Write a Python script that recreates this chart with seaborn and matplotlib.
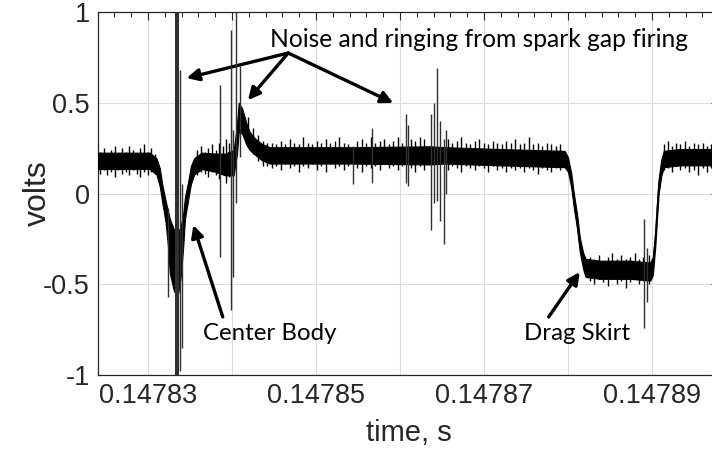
import numpy as np
import pandas as pd
import matplotlib
matplotlib.use("Agg")
import matplotlib.pyplot as plt
import seaborn as sns
from matplotlib.ticker import FixedLocator, MultipleLocator

# ---------------- data ----------------
# centre of the noisy trace (time in s, volts) and the half-width of its noise band
trace_time = [0.1478240, 0.1478302, 0.1478310, 0.1478314, 0.1478317, 0.1478321,
              0.1478324, 0.1478326, 0.1478331, 0.1478336, 0.1478339, 0.1478342,
              0.1478344, 0.1478348, 0.1478351, 0.1478355, 0.1478364, 0.1478380,
              0.1478392, 0.1478402, 0.1478406, 0.1478408, 0.1478412, 0.1478417,
              0.1478421, 0.1478427, 0.1478435, 0.1478445, 0.1478541, 0.1478636,
              0.1478654, 0.1478719, 0.1478796, 0.1478800, 0.1478804, 0.1478807,
              0.1478811, 0.1478814, 0.1478818, 0.1478821, 0.1478838, 0.1478874,
              0.1478898, 0.1478901, 0.1478904, 0.1478906, 0.1478908, 0.1478911,
              0.1478914, 0.1478933, 0.1478971, 0.1478980]
trace_volts = [0.18, 0.18, 0.15, 0.09, 0.00, -0.10,
               -0.20, -0.29, -0.37, -0.38, -0.32, -0.20,
               -0.08, 0.02, 0.10, 0.15, 0.18, 0.17,
               0.16, 0.17, 0.30, 0.42, 0.40, 0.33,
               0.29, 0.26, 0.23, 0.21, 0.21, 0.21,
               0.21, 0.20, 0.19, 0.16, 0.07, -0.04,
               -0.16, -0.28, -0.37, -0.41, -0.42, -0.42,
               -0.43, -0.40, -0.25, -0.10, 0.04, 0.14,
               0.19, 0.20, 0.20, 0.20]
noise_halfwidth = [0.045, 0.045, 0.045, 0.05, 0.05, 0.06,
                   0.10, 0.15, 0.17, 0.17, 0.14, 0.09,
                   0.06, 0.05, 0.05, 0.045, 0.045, 0.05,
                   0.06, 0.07, 0.08, 0.08, 0.07, 0.06,
                   0.05, 0.045, 0.045, 0.045, 0.045, 0.05,
                   0.045, 0.045, 0.045, 0.04, 0.04, 0.04,
                   0.04, 0.04, 0.045, 0.05, 0.05, 0.05,
                   0.05, 0.05, 0.04, 0.04, 0.04, 0.045,
                   0.045, 0.045, 0.045, 0.045]

# spark-gap spikes: time, lowest and highest excursion
spike_time = [0.1478324, 0.14783328, 0.14783351, 0.1478338, 0.1478341, 0.1478386,
              0.1478399, 0.1478401, 0.1478405, 0.1478409, 0.1478544, 0.1478567,
              0.1478607, 0.1478609, 0.1478637, 0.1478640, 0.1478644, 0.1478648,
              0.1478653, 0.1478655, 0.1478891, 0.1478894]
spike_low = [-0.57, -1.1, -1.1, -0.98, -0.85, -0.35,
             -0.64, -0.46, -0.05, 0.20, 0.05, 0.06,
             0.06, 0.04, -0.20, -0.05, -0.04, -0.15,
             -0.28, 0.00, -0.74, -0.60]
spike_high = [-0.08, 1.1, 1.1, 0.68, 0.05, 0.60,
              0.90, 0.35, 1.00, 0.70, 0.26, 0.36,
              0.44, 0.38, 0.44, 0.50, 0.69, 0.40,
              0.30, 0.35, -0.14, -0.30]
spike_width = [1.0, 2.2, 2.2, 1.0, 1.0, 1.0,
               1.0, 1.0, 1.0, 1.0, 1.0, 1.0,
               1.0, 1.0, 1.0, 1.0, 1.0, 1.0,
               1.0, 1.0, 1.0, 1.0]

# small noise excursions along the flat parts of the trace
# (time in microseconds after 0.14782 s, lowest and highest volts)
fuzz_time_us = [4.29, 4.76, 5.12, 5.60, 6.07, 6.43, 6.91, 7.38, 7.74, 8.22, 8.69, 9.05,
                9.53, 10.00, 10.36, 10.84,
                15.84, 16.31, 16.79, 17.15, 17.62, 18.10, 18.45, 18.93, 19.29, 19.65,
                21.91, 22.50, 23.10, 23.69, 24.17,
                24.76, 25.24, 25.84, 26.31, 26.91, 27.38, 27.98, 28.46, 29.05, 29.53,
                30.12, 30.60, 31.19, 31.67, 32.26, 32.74, 33.34, 33.81, 34.88, 35.48,
                35.96, 36.55, 37.03, 37.62, 38.10, 38.69, 39.17, 39.76, 40.24, 41.31,
                41.79, 42.38, 42.86, 45.72, 46.19, 46.79, 47.26, 47.86, 48.34, 48.93,
                49.41, 50.00, 50.48, 51.07, 51.55, 52.15, 52.62, 53.22, 53.69, 54.29,
                54.76, 55.36, 55.84, 56.43, 56.91, 57.50, 57.98, 58.57, 59.05,
                62.62, 63.10, 63.69, 64.17, 64.77, 65.24, 65.84, 66.31, 66.91, 67.38,
                67.98, 68.46, 68.93, 69.65,
                71.43, 71.91, 72.38, 72.86, 73.34, 73.93, 74.41, 75.00, 75.48, 76.07,
                76.55, 77.03]
fuzz_low = [0.11, 0.13, 0.10, 0.12, 0.09, 0.13, 0.11, 0.12, 0.10, 0.13, 0.11, 0.09,
            0.12, 0.10, 0.12, 0.11,
            0.10, 0.12, 0.11, 0.09, 0.12, 0.10, 0.08, 0.11, 0.06, 0.09,
            0.28, 0.22, 0.18, 0.15, 0.15,
            0.14, 0.15, 0.13, 0.16, 0.14, 0.15, 0.12, 0.15, 0.14, 0.16,
            0.13, 0.15, 0.12, 0.16, 0.14, 0.15, 0.13, 0.15, 0.14, 0.12,
            0.15, 0.14, 0.15, 0.13, 0.16, 0.14, 0.15, 0.13, 0.15, 0.14,
            0.12, 0.15, 0.13, 0.13, 0.15, 0.14, 0.12, 0.15, 0.14, 0.13,
            0.15, 0.14, 0.12, 0.15, 0.13, 0.14, 0.12, 0.14, 0.13, 0.14,
            0.12, 0.14, 0.13, 0.11, 0.14, 0.13, 0.12, 0.14, 0.13,
            -0.48, -0.50, -0.47, -0.49, -0.51, -0.47, -0.50, -0.48, -0.52, -0.49,
            -0.47, -0.50, -0.48, -0.50,
            0.13, 0.14, 0.12, 0.15, 0.13, 0.14, 0.12, 0.13, 0.10, 0.14,
            0.12, 0.14]
fuzz_high = [0.23, 0.25, 0.21, 0.24, 0.26, 0.22, 0.25, 0.23, 0.26, 0.24, 0.22, 0.25,
             0.27, 0.23, 0.25, 0.22,
             0.24, 0.26, 0.23, 0.25, 0.27, 0.24, 0.28, 0.26, 0.30, 0.28,
             0.42, 0.36, 0.32, 0.29, 0.28,
             0.28, 0.27, 0.29, 0.27, 0.30, 0.28, 0.27, 0.31, 0.28, 0.27,
             0.29, 0.28, 0.30, 0.28, 0.29, 0.31, 0.28, 0.27, 0.29, 0.30,
             0.28, 0.31, 0.28, 0.29, 0.30, 0.27, 0.29, 0.31, 0.28, 0.30,
             0.29, 0.31, 0.30, 0.30, 0.28, 0.29, 0.31, 0.28, 0.27, 0.29,
             0.30, 0.28, 0.27, 0.29, 0.28, 0.27, 0.29, 0.28, 0.30, 0.27,
             0.28, 0.31, 0.27, 0.28, 0.26, 0.28, 0.27, 0.26, 0.27,
             -0.35, -0.36, -0.34, -0.37, -0.35, -0.33, -0.36, -0.34, -0.36, -0.35,
             -0.33, -0.36, -0.35, -0.34,
             0.27, 0.29, 0.26, 0.28, 0.27, 0.29, 0.26, 0.28, 0.27, 0.28,
             0.26, 0.27]

x_major_ticks = [0.14783, 0.14784, 0.14785, 0.14786, 0.14787, 0.14788, 0.14789]
x_tick_labels = ["0.14783", "", "0.14785", "", "0.14787", "", "0.14789"]
y_ticks = [-1, -0.5, 0, 0.5, 1]
y_tick_labels = ["-1", "-0.5", "0", "0.5", "1"]

# ---------------- figure ----------------
sns.set_theme(style="white")
plt.rcParams["font.family"] = ["Liberation Sans", "DejaVu Sans"]

fig = plt.figure(figsize=(7.12, 4.54), dpi=100)
ax = fig.add_axes([98 / 712, 1 - 375 / 454, 621 / 712, 363 / 454])

trace = pd.DataFrame({"time": trace_time, "volts": trace_volts, "hw": noise_halfwidth})
lower = trace["volts"] - trace["hw"]
upper = trace["volts"] + trace["hw"]
ax.fill_between(trace["time"], lower, upper, color="black", lw=0.8, zorder=3)
sns.lineplot(data=trace, x="time", y="volts", color="black", lw=1.0, ax=ax, zorder=3)

fuzz = pd.DataFrame({"time": 0.14782 + np.array(fuzz_time_us) * 1e-6,
                     "low": fuzz_low, "high": fuzz_high})
ax.vlines(fuzz["time"], fuzz["low"], fuzz["high"], color="black", lw=1.0, zorder=3)
ax.vlines(spike_time, spike_low, spike_high, colors="#303030",
          linewidths=spike_width, zorder=4)

ax.set_xlim(0.14782405, 0.14789798)
ax.set_ylim(-1, 1)

ax.xaxis.set_major_locator(FixedLocator(x_major_ticks))
ax.set_xticklabels(x_tick_labels)
ax.xaxis.set_minor_locator(MultipleLocator(0.2e-5))
ax.set_yticks(y_ticks)
ax.set_yticklabels(y_tick_labels)
ax.yaxis.set_minor_locator(MultipleLocator(0.1))

ax.grid(True, which="major", color="#dcdcdc", lw=0.8)
ax.set_axisbelow(True)
for s in ax.spines.values():
    s.set_color("#262626")
    s.set_linewidth(0.9)
    s.set_visible(True)

ax.tick_params(which="both", direction="in", top=True, right=True,
               colors="#262626", labelsize=19.5)
ax.tick_params(which="major", length=6, width=0.8, pad=6)
ax.tick_params(which="minor", length=3.5, width=0.7)

ax.set_xlabel("time, s", fontsize=21, color="#262626", labelpad=7)
ax.set_ylabel("volts", fontsize=23, color="#262626")
ax.yaxis.set_label_coords(-0.073, 0.5)

# ---------------- annotations ----------------
ann_font = ["Lato", "DejaVu Sans"]
arrow = dict(arrowstyle="-|>", color="black", lw=2.4, mutation_scale=18, shrinkA=0, shrinkB=0)
ax.text(0.1478694, 0.846, "Noise and ringing from spark gap firing", ha="center", va="center",
        fontsize=17.7, family=ann_font, color="black")
tail = (0.1478467, 0.774)
for tip in [(0.1478346, 0.636), (0.1478419, 0.515), (0.1478592, 0.499)]:
    ax.annotate("", xy=tip, xytext=tail, arrowprops=arrow)

ax.text(0.1478445, -0.769, "Center Body", ha="center", va="center",
        fontsize=17.3, family=ann_font, color="black")
ax.annotate("", xy=(0.1478354, -0.174), xytext=(0.1478389, -0.680), arrowprops=arrow)

ax.text(0.1478811, -0.769, "Drag Skirt", ha="center", va="center",
        fontsize=17.3, family=ann_font, color="black")
ax.annotate("", xy=(0.1478814, -0.433), xytext=(0.1478777, -0.680), arrowprops=arrow)

fig.savefig("out.png", dpi=100)
